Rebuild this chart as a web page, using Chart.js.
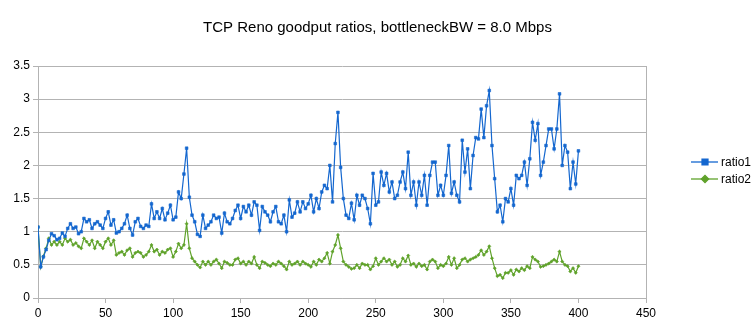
<!DOCTYPE html>
<html>
<head>
<meta charset="utf-8">
<script src="https://cdn.jsdelivr.net/npm/chart.js@4/dist/chart.umd.min.js"></script>
<style>
  html, body { margin: 0; padding: 0; background: #ffffff; }
  #chart { display: block; }
</style>
</head>
<body>
<canvas id="chart" width="755" height="334"></canvas>
<script>
// goodput ratios, one reading every 2 s (x = 0, 2, 4 ... 400)
const ratio1 = [
    1.07, 0.47, 0.62, 0.73, 0.87, 0.97, 0.94, 0.88, 0.90, 0.98,
    0.93, 1.05, 1.12, 1.05, 1.07, 0.97, 1.00, 1.20, 1.15, 1.18,
    1.05, 1.12, 1.15, 1.10, 1.05, 1.20, 1.30, 1.10, 1.18, 0.98,
    1.00, 1.05, 1.12, 1.25, 1.05, 0.95, 1.15, 1.20, 1.08, 1.05,
    1.10, 1.08, 1.42, 1.20, 1.30, 1.20, 1.35, 1.18, 1.28, 1.40,
    1.18, 1.22, 1.60, 1.50, 1.87, 2.26, 1.52, 1.25, 1.15, 0.96,
    0.93, 1.25, 1.05, 1.10, 1.15, 1.25, 1.20, 1.22, 0.98, 1.28,
    1.15, 1.12, 1.20, 1.32, 1.40, 1.20, 1.38, 1.30, 1.40, 1.25,
    1.45, 1.40, 1.02, 1.38, 1.30, 1.25, 1.15, 1.30, 1.38, 1.15,
    1.12, 1.25, 1.00, 1.48, 1.22, 1.28, 1.45, 1.30, 1.45, 1.35,
    1.42, 1.55, 1.30, 1.50, 1.35, 1.60, 1.70, 1.65, 2.00, 1.45,
    2.33, 2.80, 1.97, 1.50, 1.25, 1.20, 1.43, 1.18, 1.55, 1.40,
    1.55, 1.50, 1.35, 1.12, 1.88, 1.40, 1.45, 1.90, 1.70, 1.88,
    1.60, 1.75, 1.50, 1.55, 1.75, 1.90, 1.65, 2.20, 1.55, 1.75,
    1.40, 1.75, 1.55, 1.85, 1.40, 1.85, 2.05, 2.05, 1.55, 1.70,
    1.55, 1.85, 2.30, 1.58, 1.75, 1.55, 1.45, 2.38, 1.90, 2.25,
    1.65, 2.15, 2.42, 2.40, 2.85, 2.42, 2.90, 3.13, 2.30, 1.80,
    1.30, 1.40, 1.15, 1.50, 1.45, 1.65, 1.40, 1.85, 1.80, 1.85,
    2.05, 1.70, 2.10, 2.65, 2.38, 2.63, 1.85, 2.05, 2.30, 2.55,
    2.55, 2.25, 2.55, 3.08, 2.00, 2.30, 2.20, 1.65, 2.05, 1.72,
    2.22
];

const ratio2 = [
    1.07, 0.47, 0.63, 0.75, 0.90, 0.80, 0.85, 0.80, 0.85, 0.80,
    0.90, 0.85, 0.88, 0.80, 0.83, 0.78, 0.75, 0.90, 0.85, 0.80,
    0.87, 0.75, 0.85, 0.80, 0.75, 0.85, 0.90, 0.80, 0.87, 0.65,
    0.68, 0.70, 0.65, 0.72, 0.75, 0.62, 0.68, 0.70, 0.68, 0.62,
    0.65, 0.70, 0.80, 0.70, 0.73, 0.65, 0.70, 0.68, 0.73, 0.75,
    0.62, 0.70, 0.82, 0.75, 0.80, 1.12, 0.75, 0.60, 0.55, 0.50,
    0.46, 0.55, 0.50, 0.55, 0.50, 0.55, 0.58, 0.52, 0.45, 0.55,
    0.53, 0.50, 0.50, 0.58, 0.60, 0.52, 0.55, 0.50, 0.55, 0.52,
    0.62, 0.50, 0.45, 0.55, 0.53, 0.50, 0.48, 0.52, 0.50, 0.55,
    0.52, 0.48, 0.43, 0.55, 0.50, 0.52, 0.55, 0.50, 0.55, 0.52,
    0.50, 0.47, 0.55, 0.50, 0.58, 0.55, 0.60, 0.68, 0.52, 0.70,
    0.80, 0.95, 0.75, 0.55, 0.50, 0.47, 0.44, 0.45, 0.50, 0.45,
    0.52, 0.50, 0.50, 0.43, 0.48, 0.60, 0.50, 0.55, 0.60, 0.55,
    0.58, 0.50, 0.55, 0.47, 0.50, 0.60, 0.55, 0.64, 0.50, 0.52,
    0.47, 0.52, 0.48, 0.50, 0.43, 0.55, 0.58, 0.55, 0.45, 0.50,
    0.48, 0.52, 0.62, 0.50, 0.60, 0.45, 0.50, 0.58, 0.60, 0.55,
    0.58, 0.60, 0.62, 0.65, 0.72, 0.65, 0.70, 0.78, 0.60, 0.45,
    0.33, 0.35, 0.30, 0.38, 0.38, 0.42, 0.35, 0.43, 0.40, 0.45,
    0.42, 0.48, 0.45, 0.62, 0.58, 0.55, 0.47, 0.48, 0.50, 0.52,
    0.55, 0.58, 0.55, 0.70, 0.55, 0.50, 0.48, 0.40, 0.45, 0.38,
    0.48
];

const seriesNames = ['ratio1', 'ratio2'];
const seriesColors = ['#1467cf', '#5fa22a'];
const xTicks = [0, 50, 100, 150, 200, 250, 300, 350, 400, 450];
const yTicks = [0, 0.5, 1, 1.5, 2, 2.5, 3, 3.5];

const xValues = ratio1.map((v, i) => i * 2);

function toPoints(values) {
    return values.map((v, i) => ({ x: xValues[i], y: v }));
}

const gridGray = '#b3b3b3';
const fontFamily = '"Liberation Sans", Arial, sans-serif';

// legend on the right: short line with the marker in the middle, then the name
const sideLegend = {
    id: 'sideLegend',
    afterDraw(chart) {
        const ctx = chart.ctx;
        const styles = ['rect', 'rectRot'];
        ctx.save();
        ctx.font = '12px ' + fontFamily;
        ctx.textBaseline = 'middle';
        ctx.textAlign = 'left';
        seriesNames.forEach((name, i) => {
            const y = 162 + i * 17;
            ctx.strokeStyle = seriesColors[i];
            ctx.lineWidth = 1.3;
            ctx.beginPath();
            ctx.moveTo(691, y);
            ctx.lineTo(718, y);
            ctx.stroke();
            ctx.fillStyle = seriesColors[i];
            Chart.helpers.drawPoint(ctx, {
                pointStyle: styles[i],
                radius: i === 0 ? 4.2 : 3.6,
                borderWidth: 1
            }, 705, y);
            ctx.fillStyle = '#000000';
            ctx.fillText(name, 721, y + 0.5);
        });
        ctx.restore();
    }
};

new Chart(document.getElementById('chart'), {
    type: 'line',
    data: {
        datasets: [
            {
                label: seriesNames[0],
                data: toPoints(ratio1),
                borderColor: seriesColors[0],
                backgroundColor: seriesColors[0],
                borderWidth: 1.2,
                pointStyle: 'rect',
                pointRadius: 1.9,
                pointBorderWidth: 0.6,
                tension: 0
            },
            {
                label: seriesNames[1],
                data: toPoints(ratio2),
                borderColor: seriesColors[1],
                backgroundColor: seriesColors[1],
                borderWidth: 1.2,
                pointStyle: 'rectRot',
                pointRadius: 1.6,
                pointBorderWidth: 0.6,
                tension: 0
            }
        ]
    },
    options: {
        responsive: false,
        animation: false,
        layout: { padding: 0 },
        plugins: {
            legend: { display: false },
            tooltip: { enabled: false },
            title: {
                display: true,
                text: 'TCP Reno goodput ratios, bottleneckBW = 8.0 Mbps',
                color: '#000000',
                font: { family: fontFamily, size: 15, weight: 'normal' },
                padding: { top: 19, bottom: 29 }
            }
        },
        scales: {
            x: {
                type: 'linear',
                min: 0,
                max: 450,
                afterBuildTicks(axis) {
                    axis.ticks = xTicks.map(v => ({ value: v }));
                },
                afterFit(axis) {
                    axis.height = 36;
                },
                ticks: {
                    color: '#000000',
                    font: { family: fontFamily, size: 12 },
                    padding: 3,
                    maxRotation: 0
                },
                grid: {
                    color: c => (c.tick && c.tick.value === 450 ? gridGray : 'rgba(0,0,0,0)'),
                    tickColor: gridGray,
                    tickLength: 5,
                    lineWidth: 1
                },
                border: { color: gridGray }
            },
            y: {
                min: 0,
                max: 3.5,
                afterBuildTicks(axis) {
                    axis.ticks = yTicks.map(v => ({ value: v }));
                },
                afterFit(axis) {
                    axis.width = 38;
                },
                ticks: {
                    color: '#000000',
                    font: { family: fontFamily, size: 12 },
                    padding: 3,
                    callback: v => String(v)
                },
                grid: {
                    color: gridGray,
                    tickColor: gridGray,
                    tickLength: 5,
                    lineWidth: 1
                },
                border: { color: gridGray }
            },
            // empty right-hand axis that keeps room for the legend
            legendRoom: {
                position: 'right',
                display: true,
                ticks: { display: false },
                grid: { display: false },
                border: { display: false },
                afterFit(axis) {
                    axis.width = 109;
                }
            }
        }
    },
    plugins: [sideLegend]
});
</script>
</body>
</html>
